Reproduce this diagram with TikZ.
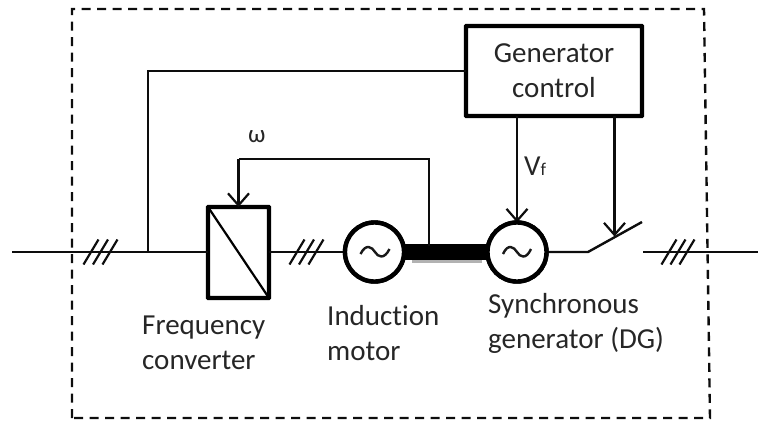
\documentclass[tikz,border=0pt]{standalone}
\usepackage{fontspec}
\setmainfont{Carlito}[RawFeature={-liga}]
\usetikzlibrary{arrows.meta}
\tikzset{
  x=1pt,y=-1pt,
  wire/.style={line width=2.4pt,draw=black!95},
  sig/.style={wire,-{Straight Barb[length=12pt,width=21pt,line width=2.2pt]},shorten >=0pt},
  block/.style={draw=black,line width=4.4pt,rounded corners=0.6pt,fill=white,inner sep=0pt,outer sep=0pt,anchor=north west},
  machine/.style={circle,draw=black,line width=4.4pt,fill=white,minimum size=59pt,inner sep=0pt,outer sep=0pt},
  frame/.style={line width=2.4pt,draw=black!95,dash pattern=on 9pt off 6.5pt},
  label/.style={font=\fontsize{29}{35}\selectfont,text=black!85,inner sep=0pt,align=center},
  llabel/.style={label,align=left,anchor=west},
  slash/.style={line width=2.2pt,draw=black!95},
  waveline/.style={line width=2.4pt,draw=black!90},
}
\begin{document}
\begin{tikzpicture}
\useasboundingbox (0,0) rectangle (758,421);
% outer dashed frame
\draw[frame] (72,418) -- (72,9) -- (704,9) -- (710,418) -- cycle;

% named points
\coordinate (inL) at (12,252);
\coordinate (tap) at (148,252);
\coordinate (corner1) at (148,71);
\coordinate (swA) at (588,252);
\coordinate (swB) at (642,222);
\coordinate (swHit) at (614.5,236.5);
\coordinate (swC) at (643,252);
\coordinate (outR) at (758,252);
\coordinate (fbTop) at (429,159);
\coordinate (fbFoot) at (429,246);

% blocks
\node[block,minimum width=61pt,minimum height=91pt] (conv) at (208,207) {};
\node[block,minimum width=176pt,minimum height=90pt] (ctrl) at (466,26) {};
\node[machine] (mot) at (374.5,252) {};
\node[machine] (gen) at (517,252) {};

% wires
\draw[wire] (inL) -- (inL -| conv.west);
\draw[wire] (tap) -- (corner1) -- (corner1 -| ctrl.west);
\draw[wire] (inL -| conv.east) -- (mot.west);
\draw[wire] (gen.east) -- (swA) -- (swB);
\draw[wire] (swC) -- (outR);

% shaft
\fill[black!30] (412,260) rectangle (482,262.5);
\draw[line width=16pt] (mot.east) -- (gen.west);
\draw[wire] (fbFoot) -- (fbTop) -- (fbTop -| conv.north);
\draw[sig] (fbTop -| conv.north) -- (conv.north);
\draw[sig] (ctrl.south -| gen.north) -- (gen.north);
\draw[sig] (ctrl.south -| swHit) -- (swHit);

% redraw machine rims above shaft
\node[machine] at (mot) {};
\node[machine] at (gen) {};
\draw[line width=2.2pt] (conv.north west) -- (conv.south east);

% waves
\draw[waveline] (360.5,254) .. controls (366,243) and (372,247) .. (375,252) .. controls (378,257) and (384,260) .. (389.5,249);
\draw[waveline] (503,254) .. controls (508,243) and (514,247) .. (517,252) .. controls (520,257) and (526,260) .. (531,249);

% three-phase marks
\foreach \cx in {91,100.5,110,297,306.5,316,669,678,687}
  \draw[slash] (\cx-7.5,264.5) -- (\cx+7.5,239.5);

% labels
\node[label] (tG) at (554,70.5) {Generator\\control};
\node[label,anchor=west,font=\fontsize{25}{30}\selectfont] (tW) at (248,137) {ω};
\node[label,anchor=west] (tV) at (524,166) {V\fontsize{18}{18}\selectfont f};
\node[llabel] (tF) at (142,343) {Frequency\\converter};
\node[llabel] (tI) at (327,333) {Induction\\motor};
\node[llabel] (tS) at (488,323) {Synchronous\\generator (DG)};
\end{tikzpicture}
\end{document}
